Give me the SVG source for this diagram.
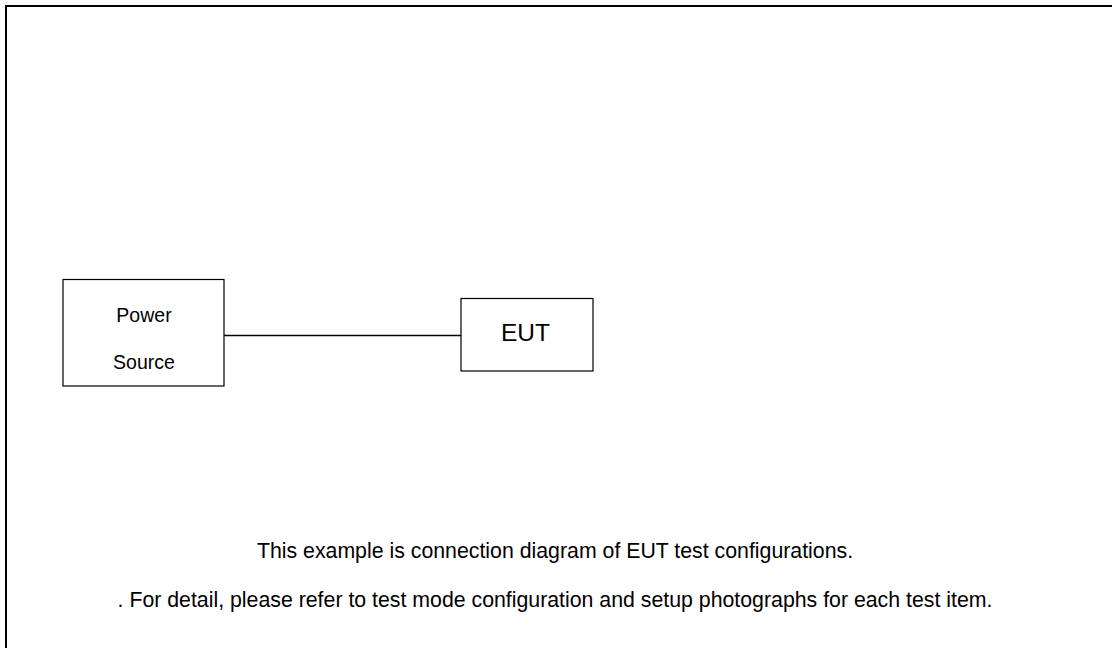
<svg xmlns="http://www.w3.org/2000/svg" width="1112" height="648" viewBox="0 0 1112 648">
  <style>
    .box { fill: #ffffff; stroke: #000000; stroke-width: 1.2; }
    .wire { stroke: #000000; stroke-width: 1.4; fill: none; }
    .label { font-family: "Liberation Sans", Arial, sans-serif; fill: #000000; text-anchor: middle; }
  </style>
  <rect width="1112" height="648" fill="#ffffff"/>
  <!-- page frame, open on the right and bottom -->
  <rect x="6" y="6" width="1120" height="660" fill="none" stroke="#000000" stroke-width="2"/>

  <g id="connectors">
    <line class="wire" x1="224" y1="335.5" x2="461" y2="335.5"/>
  </g>

  <g id="power-source">
    <rect class="box" x="63" y="279.5" width="161" height="106.5"/>
    <text class="label" x="144" y="322" font-size="19.5">Power</text>
    <text class="label" x="144" y="369" font-size="19.5">Source</text>
  </g>

  <g id="eut">
    <rect class="box" x="461" y="298.5" width="132" height="72.5"/>
    <text class="label" x="525.5" y="341" font-size="24.5">EUT</text>
  </g>

  <g id="notes">
    <text class="label" x="555" y="558" font-size="21.3">This example is connection diagram of EUT test configurations.</text>
    <text class="label" x="555" y="607" font-size="21.3">. For detail, please refer to test mode configuration and setup photographs for each test item.</text>
  </g>
</svg>
